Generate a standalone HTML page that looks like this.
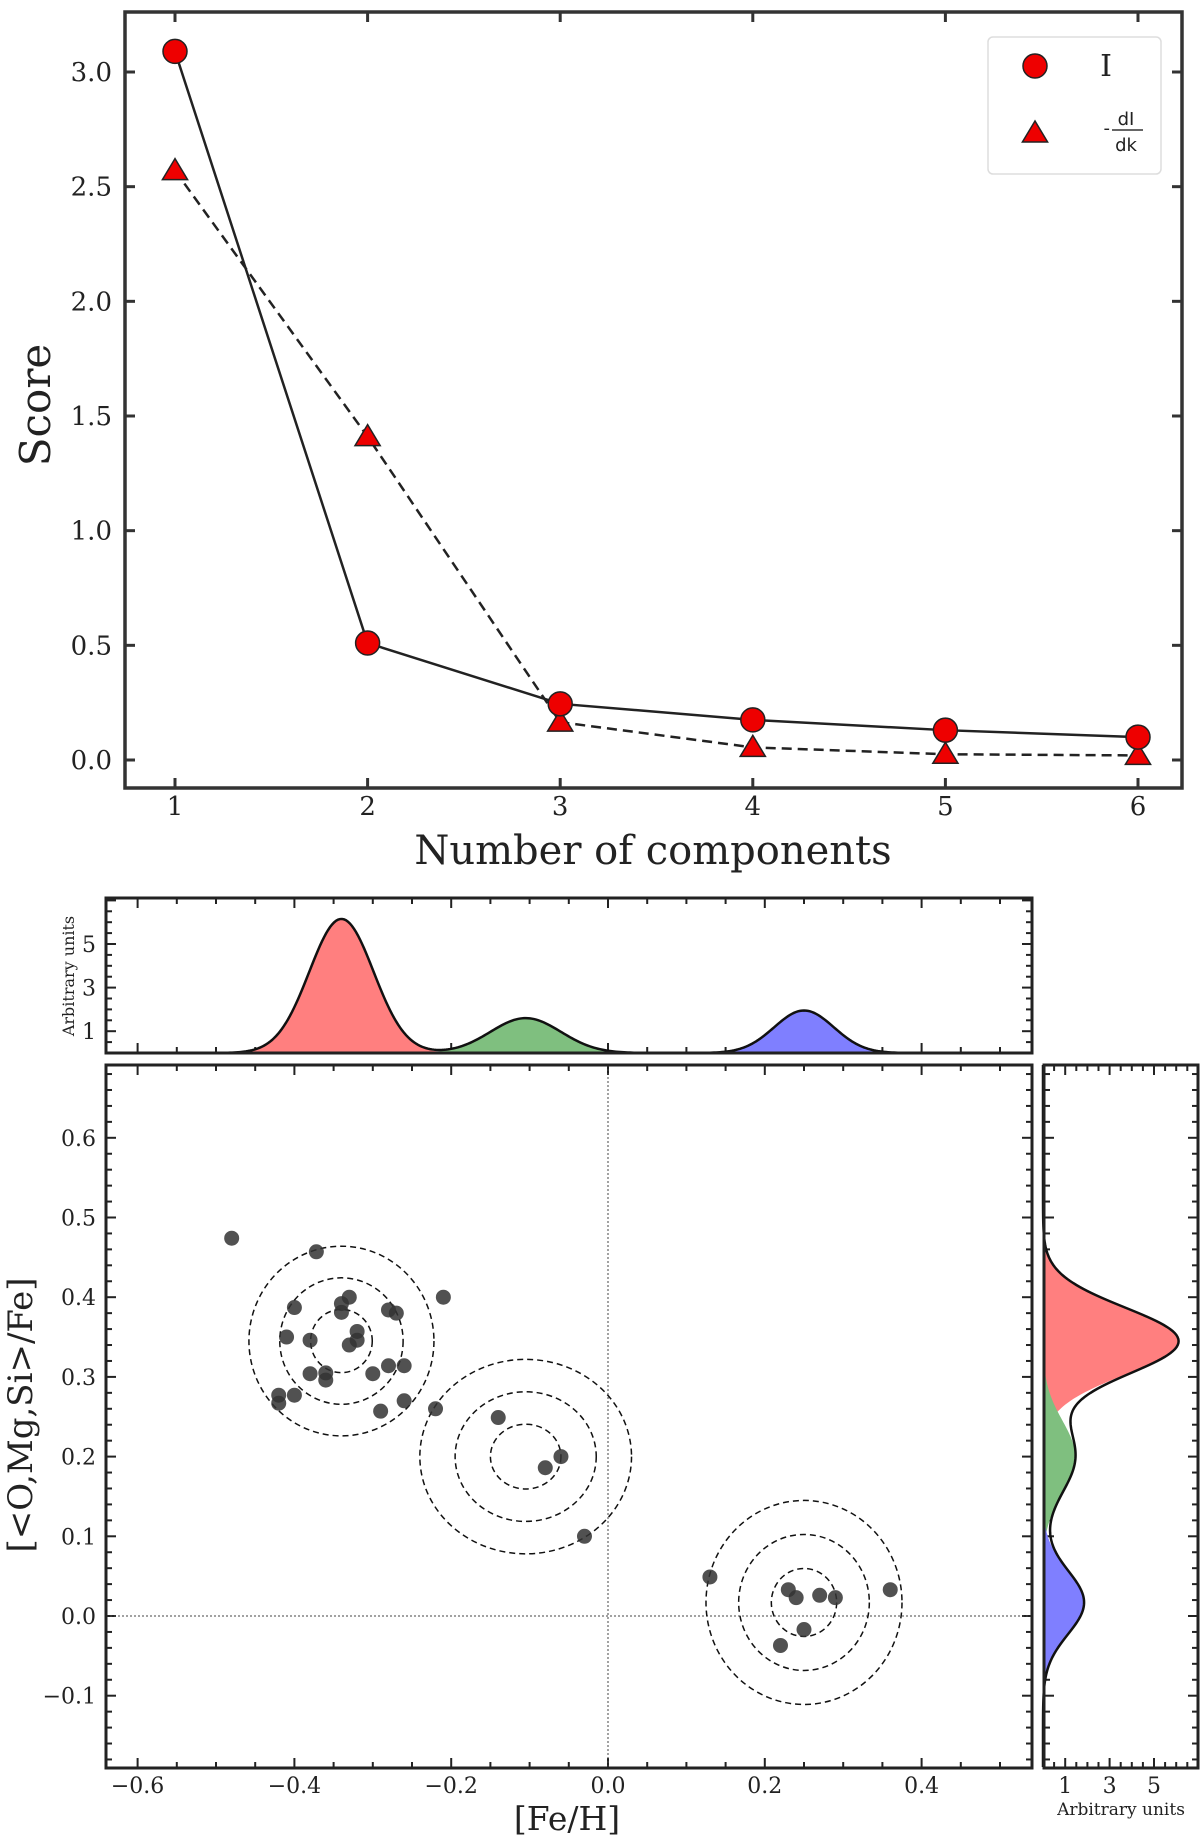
<!DOCTYPE html>
<html><head><meta charset="utf-8">
<style>
html,body{margin:0;padding:0;background:#fff;}
svg{display:block;}
text{font-family:"DejaVu Serif","Liberation Serif",serif;fill:#222;}
</style></head>
<body>
<svg id="fig" width="1200" height="1837" viewBox="0 0 1200 1837" xmlns="http://www.w3.org/2000/svg"></svg>
<script>
// ---------- Top chart data ----------
const components = [1,2,3,4,5,6];
const scoreI = [3.09,0.51,0.245,0.175,0.13,0.10];
const scoreDIdk = [2.57,1.41,0.165,0.055,0.025,0.02];
const topYTicks = [0.0,0.5,1.0,1.5,2.0,2.5,3.0];
const topYTickLabels = ["0.0","0.5","1.0","1.5","2.0","2.5","3.0"];
// ---------- Scatter data ----------
const feH = [-0.48,-0.372,-0.33,-0.34,-0.34,-0.40,-0.28,-0.27,-0.21,-0.41,-0.38,-0.32,-0.32,-0.33,-0.38,-0.36,-0.36,-0.30,-0.28,-0.26,-0.42,-0.42,-0.40,-0.29,-0.26,-0.22,-0.14,-0.06,-0.08,-0.03,0.13,0.23,0.24,0.27,0.29,0.36,0.25,0.22];
const alphaFe = [0.474,0.457,0.40,0.392,0.381,0.387,0.384,0.38,0.40,0.35,0.346,0.357,0.346,0.34,0.304,0.305,0.296,0.304,0.314,0.314,0.277,0.267,0.277,0.257,0.27,0.26,0.249,0.20,0.186,0.10,0.049,0.033,0.023,0.026,0.023,0.033,-0.017,-0.037];
const clusterX = [-0.34,-0.105,0.25];
const clusterY = [0.345,0.20,0.017];
const clusterRX = [0.118,0.135,0.125];
const clusterRY = [0.119,0.122,0.128];
const clusterColors = ["#ff7f7f","#7fbf7f","#7f7fff"];
const margXAmp = [6.15,1.6,1.95];
const margXSig = [0.041,0.045,0.038];
const margYAmp = [6.1,1.45,1.85];
const margYSig = [0.042,0.045,0.04];
const scXTicks = [-0.6,-0.4,-0.2,0.0,0.2,0.4];
const scXTickLabels = ["\u22120.6","\u22120.4","\u22120.2","0.0","0.2","0.4"];
const scYTicks = [-0.1,0.0,0.1,0.2,0.3,0.4,0.5,0.6];
const scYTickLabels = ["\u22120.1","0.0","0.1","0.2","0.3","0.4","0.5","0.6"];
const margTicks = [1,3,5];
const margTickLabels = ["1","3","5"];

const NS="http://www.w3.org/2000/svg";
const svg=document.getElementById('fig');
function el(tag,attrs,parent){const e=document.createElementNS(NS,tag);for(const k in attrs)e.setAttribute(k,attrs[k]);(parent||svg).appendChild(e);return e;}
function txt(s,attrs,parent){const e=el('text',attrs,parent);e.textContent=s;return e;}

// ===== TOP CHART =====
const T={l:125,r:1182,t:12,b:788};
const tx=v=>175+(v-1)*(1138-175)/5;
const ty=v=>760-v*(760-72)/3;
const g1=el('g',{});


const tb=el('rect',{x:T.l,y:T.t,width:T.r-T.l,height:T.b-T.t,fill:'none',stroke:'#333','stroke-width':3.5},g1);


components.forEach(c=>{
  const x=tx(c);
  el('line',{x1:x,y1:T.b,x2:x,y2:T.b-10,stroke:'#333','stroke-width':3},g1);
  el('line',{x1:x,y1:T.t,x2:x,y2:T.t+10,stroke:'#333','stroke-width':3},g1);
  const l=txt(String(c),{x:x,y:815,'text-anchor':'middle','font-size':26},g1);
  
  
});
topYTicks.forEach((v,i)=>{
  const y=ty(v);
  el('line',{x1:T.l,y1:y,x2:T.l+10,y2:y,stroke:'#333','stroke-width':3},g1);
  el('line',{x1:T.r,y1:y,x2:T.r-10,y2:y,stroke:'#333','stroke-width':3},g1);
  const l=txt(topYTickLabels[i],{x:112,y:y+9,'text-anchor':'end','font-size':26},g1);
  
  
});
const xt=txt('Number of components',{x:653,y:864,'text-anchor':'middle','font-size':40},g1);


const yt=txt('Score',{x:50,y:405,'text-anchor':'middle','font-size':42,transform:'rotate(-90 50 405)'},g1);


const lineI=el('polyline',{points:components.map((c,i)=>tx(c)+','+ty(scoreI[i])).join(' '),fill:'none',stroke:'#222','stroke-width':2.5},g1);


const lineD=el('polyline',{points:components.map((c,i)=>tx(c)+','+ty(scoreDIdk[i])).join(' '),fill:'none',stroke:'#222','stroke-width':2.5,'stroke-dasharray':'10,6'},g1);


function tri(cx,cy,s){return `${cx},${cy-s} ${cx-s*1.05},${cy+s*0.75} ${cx+s*1.05},${cy+s*0.75}`;}
components.forEach((c,i)=>{
  const t=el('polygon',{points:tri(tx(c),ty(scoreDIdk[i]),12),fill:'#e00',stroke:'#222','stroke-width':1.5},g1);
  
  
});
components.forEach((c,i)=>{
  const m=el('circle',{cx:tx(c),cy:ty(scoreI[i]),r:12,fill:'#e00',stroke:'#222','stroke-width':1.5},g1);
  
  
});
const lg=el('g',{},g1);


el('rect',{x:988,y:37,width:173,height:137,rx:5,fill:'#fff',stroke:'#ddd','stroke-width':1.5},lg);
const le1=el('circle',{cx:1035,cy:66,r:12,fill:'#e00',stroke:'#222','stroke-width':1.5},lg);


txt('I',{x:1106,y:76,'text-anchor':'middle','font-size':30},lg);
const le2=el('polygon',{points:tri(1035,133,12),fill:'#e00',stroke:'#222','stroke-width':1.5},lg);


txt('-',{x:1110,y:134,'text-anchor':'end','font-size':18,style:'font-family:"DejaVu Sans",sans-serif'},lg);
txt('dI',{x:1126,y:125,'text-anchor':'middle','font-size':18,style:'font-family:"DejaVu Sans",sans-serif'},lg);
el('line',{x1:1112,y1:130,x2:1143,y2:130,stroke:'#333','stroke-width':1.5},lg);
txt('dk',{x:1126,y:151,'text-anchor':'middle','font-size':18,style:'font-family:"DejaVu Sans",sans-serif'},lg);

// ===== SCATTER =====
const S={l:106,r:1032,t:1065,b:1768};
const sx=v=>608+v*784;
const sy=v=>1616-v*797;
const M={t:898,b:1053};
const mty=v=>1053-v*21.8;
const R={l:1044,r:1198};
const mrx=v=>1043+v*22.2;
const g2=el('g',{});



function frame(x1,y1,x2,y2,name,parent){const r=el('rect',{x:x1,y:y1,width:x2-x1,height:y2-y1,fill:'none',stroke:'#222','stroke-width':3},parent);}
function tick(x1,y1,x2,y2,p){el('line',{x1,y1,x2,y2,stroke:'#222','stroke-width':2},p);}

for(let v=-0.6;v<=0.55;v+=0.05){
  const vv=Math.round(v*100)/100; const x=sx(vv); if(x<S.l||x>S.r)continue;
  const maj=Math.abs(Math.round(vv*10)-vv*10)<1e-6 && Math.round(vv*10)%2===0;
  const L=maj?10:6;
  tick(x,S.b,x,S.b-L,g2); tick(x,S.t,x,S.t+L,g2);
  tick(x,M.b,x,M.b-L,g2); tick(x,M.t,x,M.t+L,g2);
}
for(let v=-0.18;v<=0.69;v+=0.02){
  const vv=Math.round(v*100)/100; const y=sy(vv); if(y<S.t||y>S.b)continue;
  const maj=Math.abs(vv*10-Math.round(vv*10))<1e-6;
  const L=maj?10:6;
  tick(S.l,y,S.l+L,y,g2); tick(S.r,y,S.r-L,y,g2);
  tick(R.l,y,R.l+L,y,g2); tick(R.r,y,R.r-L,y,g2);
}
for(let v=0.5;v<=7;v+=0.5){
  const maj=(v%2===1); const L=maj?10:6;
  const y=mty(v); if(y>M.t+2){tick(S.l,y,S.l+L,y,g2);tick(S.r,y,S.r-L,y,g2);}
  const x=mrx(v); if(x<R.r-2){tick(x,S.b,x,S.b-L,g2);tick(x,S.t,x,S.t+L,g2);}
}
scXTicks.forEach((v,i)=>{const l=txt(scXTickLabels[i],{x:sx(v),y:1793,'text-anchor':'middle','font-size':22},g2);});
scYTicks.forEach((v,i)=>{const l=txt(scYTickLabels[i],{x:96,y:sy(v)+8,'text-anchor':'end','font-size':22},g2);});
margTicks.forEach((v,i)=>{
  const a=txt(margTickLabels[i],{x:96,y:mty(v)+8,'text-anchor':'end','font-size':22},g2);
  const b=txt(margTickLabels[i],{x:mrx(v),y:1793,'text-anchor':'middle','font-size':22},g2);
});
const fx=txt('[Fe/H]',{x:567,y:1830,'text-anchor':'middle','font-size':33},g2);
const fy=txt('[<O,Mg,Si>/Fe]',{x:32,y:1415,'text-anchor':'middle','font-size':34,transform:'rotate(-90 32 1415)'},g2);
const au1=txt('Arbitrary units',{x:74,y:976,'text-anchor':'middle','font-size':16,transform:'rotate(-90 74 976)'},g2);
const au2=txt('Arbitrary units',{x:1121,y:1815,'text-anchor':'middle','font-size':17},g2);

el('line',{x1:sx(0),y1:S.t,x2:sx(0),y2:S.b,stroke:'#444','stroke-width':1,'stroke-dasharray':'2,2'},g2);
el('line',{x1:S.l,y1:sy(0),x2:S.r,y2:sy(0),stroke:'#444','stroke-width':1,'stroke-dasharray':'2,2'},g2);

const gauss=(v,c,a,s)=>a*Math.exp(-0.5*((v-c)/s)**2);
clusterX.forEach((c,k)=>{
  let d=`M${sx(c-5*margXSig[k])},${mty(0)}`;
  for(let v=c-5*margXSig[k];v<=c+5*margXSig[k];v+=0.002) d+=` L${sx(v)},${mty(gauss(v,c,margXAmp[k],margXSig[k]))}`;
  d+=` L${sx(c+5*margXSig[k])},${mty(0)}Z`;
  const p=el('path',{d,fill:clusterColors[k],stroke:'none'},g2);
  
  
});
{let d='';for(let x=S.l;x<=S.r;x+=2){const v=(x-608)/784;let s=0;clusterX.forEach((c,k)=>s+=gauss(v,c,margXAmp[k],margXSig[k]));d+=(d?' L':'M')+x+','+mty(s);}
 const p=el('path',{d,fill:'none',stroke:'#111','stroke-width':2.5},g2);}

clusterY.forEach((c,k)=>{
  let d=`M${mrx(0)},${sy(c-5*margYSig[k])}`;
  for(let v=c-5*margYSig[k];v<=c+5*margYSig[k];v+=0.002) d+=` L${mrx(gauss(v,c,margYAmp[k],margYSig[k]))},${sy(v)}`;
  d+=` L${mrx(0)},${sy(c+5*margYSig[k])}Z`;
  const p=el('path',{d,fill:clusterColors[k],stroke:'none'},g2);
  
  
});
{let d='';for(let y=S.t;y<=S.b;y+=2){const v=(1616-y)/797;let s=0;clusterY.forEach((c,k)=>s+=gauss(v,c,margYAmp[k],margYSig[k]));d+=(d?' L':'M')+mrx(s)+','+y;}
 const p=el('path',{d,fill:'none',stroke:'#111','stroke-width':2.5},g2);}

clusterX.forEach((c,k)=>{
  [1/3,2/3,1].forEach(f=>{
    const e=el('ellipse',{cx:sx(c),cy:sy(clusterY[k]),rx:clusterRX[k]*784*f,ry:clusterRY[k]*797*f,fill:'none',stroke:'#111','stroke-width':1.5,'stroke-dasharray':'6,4'},g2);
    
    
  });
});
feH.forEach((v,i)=>{
  const c=el('circle',{cx:sx(v),cy:sy(alphaFe[i]),r:7.5,fill:'#333','fill-opacity':0.85},g2);
  
  
});
frame(S.l,S.t,S.r,S.b,'scatter-frame',g2);
frame(S.l,M.t,S.r,M.b,'top-marginal-frame',g2);
frame(R.l,S.t,R.r,S.b,'right-marginal-frame',g2);
</script>
</body></html>
